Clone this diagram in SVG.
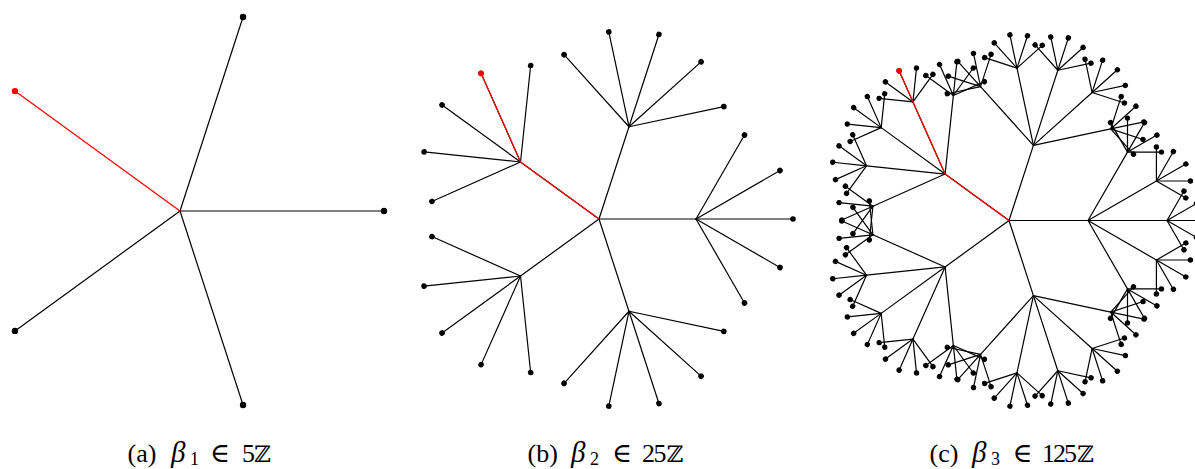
<svg xmlns="http://www.w3.org/2000/svg" width="1195" height="469" viewBox="0 0 1195 469">
<style>
.edges{stroke:#000;stroke-width:1.2;fill:none;stroke-linecap:round}
.dots{fill:#000;stroke:none}
.red{stroke:#f00;stroke-width:1.25;fill:none;stroke-linejoin:round}
.reddot{fill:#f00}
.cap{font-family:"Liberation Serif","DejaVu Serif",serif;font-size:26px;fill:#000}
.it{font-style:italic;font-size:29px}
.sym{font-family:"DejaVu Serif","DejaVu Sans",serif;font-size:23px}
.el{font-family:"DejaVu Serif","DejaVu Sans",serif;font-size:27px}
.sub{font-size:18px}
</style>
<defs>
<g id="c3e"><line x2="34" transform="rotate(-60)"/><line x2="34" transform="rotate(-30)"/><line x2="34"/><line x2="34" transform="rotate(30)"/><line x2="34" transform="rotate(60)"/></g>
<g id="c3n"><circle cx="34" r="2.7" transform="rotate(-60)"/><circle cx="34" r="2.7" transform="rotate(-30)"/><circle cx="34" r="2.7"/><circle cx="34" r="2.7" transform="rotate(30)"/><circle cx="34" r="2.7" transform="rotate(60)"/></g>
<g id="c2e">
<g transform="rotate(-60)"><line x2="79"/><use href="#c3e" x="79"/></g>
<g transform="rotate(-30)"><line x2="79"/><use href="#c3e" x="79"/></g>
<g><line x2="79"/><use href="#c3e" x="79"/></g>
<g transform="rotate(30)"><line x2="79"/><use href="#c3e" x="79"/></g>
<g transform="rotate(60)"><line x2="79"/><use href="#c3e" x="79"/></g>
</g>
<g id="c2n">
<use href="#c3n" transform="rotate(-60) translate(79,0)"/>
<use href="#c3n" transform="rotate(-30) translate(79,0)"/>
<use href="#c3n" transform="translate(79,0)"/>
<use href="#c3n" transform="rotate(30) translate(79,0)"/>
<use href="#c3n" transform="rotate(60) translate(79,0)"/>
</g>
<g id="c1e"><line x2="79"/><use href="#c2e" x="79"/></g>
<g id="c1n"><use href="#c2n" x="79"/></g>
<g id="b2e"><line x2="97" transform="rotate(-60)"/><line x2="97" transform="rotate(-30)"/><line x2="97"/><line x2="97" transform="rotate(30)"/><line x2="97" transform="rotate(60)"/></g>
<g id="b2n"><circle cx="97" r="2.8" transform="rotate(-60)"/><circle cx="97" r="2.8" transform="rotate(-30)"/><circle cx="97" r="2.8"/><circle cx="97" r="2.8" transform="rotate(30)"/><circle cx="97" r="2.8" transform="rotate(60)"/></g>
<g id="b1e"><line x2="97"/><use href="#b2e" x="97"/></g>
<g id="b1n"><use href="#b2n" x="97"/></g>
</defs>

<g id="panel-a">
<g id="a-connectors" class="edges">
<line x1="180" y1="211" x2="384" y2="211"/>
<line x1="180" y1="211" x2="243.04" y2="16.98"/>
<line x1="180" y1="211" x2="14.96" y2="330.91"/>
<line x1="180" y1="211" x2="243.04" y2="405.02"/>
<line class="red" x1="180" y1="211" x2="14.96" y2="91.09"/>
</g>
<g id="a-nodes" class="dots">
<circle id="a-n0" cx="384" cy="211" r="3.2"/>
<circle id="a-n1" cx="243.04" cy="16.98" r="3.2"/>
<circle id="a-n2" class="reddot" cx="14.96" cy="91.09" r="3.2"/>
<circle id="a-n3" cx="14.96" cy="330.91" r="3.2"/>
<circle id="a-n4" cx="243.04" cy="405.02" r="3.2"/>
</g>
</g>

<g id="panel-b">
<g id="b-connectors" class="edges" transform="translate(599,219)">
<use href="#b1e"/><use href="#b1e" transform="rotate(72)"/><use href="#b1e" transform="rotate(144)"/><use href="#b1e" transform="rotate(216)"/><use href="#b1e" transform="rotate(288)"/>
</g>
<g id="b-nodes" class="dots" transform="translate(599,219)">
<use href="#b1n"/><use href="#b1n" transform="rotate(72)"/><use href="#b1n" transform="rotate(144)"/><use href="#b1n" transform="rotate(216)"/><use href="#b1n" transform="rotate(288)"/>
</g>
<g id="b-path">
<polyline class="red" points="599,219 520.53,161.98 481.08,73.37"/>
<circle class="reddot" cx="481.08" cy="73.37" r="2.9"/>
</g>
</g>

<g id="panel-c">
<g id="c-connectors" class="edges" transform="translate(1009,220.5)">
<use href="#c1e"/><use href="#c1e" transform="rotate(72)"/><use href="#c1e" transform="rotate(144)"/><use href="#c1e" transform="rotate(216)"/><use href="#c1e" transform="rotate(288)"/>
</g>
<g id="c-nodes" class="dots" transform="translate(1009,220.5)">
<use href="#c1n"/><use href="#c1n" transform="rotate(72)"/><use href="#c1n" transform="rotate(144)"/><use href="#c1n" transform="rotate(216)"/><use href="#c1n" transform="rotate(288)"/>
</g>
<g id="c-path">
<polyline class="red" points="1009,220.5 945.09,174.06 912.96,101.89 899.13,70.83"/>
<circle class="reddot" cx="899.13" cy="70.83" r="2.8"/>
</g>
</g>

<g id="captions">
<text class="cap" y="462"><tspan x="127.5">(a)</tspan><tspan class="it" x="171">β</tspan><tspan class="sub" x="190" y="464.5">1</tspan><tspan class="el" x="210" y="462">∈</tspan><tspan x="242" y="462">5</tspan><tspan class="sym" x="254" y="462">ℤ</tspan></text>
<text class="cap" y="462"><tspan x="527.5">(b)</tspan><tspan class="it" x="571">β</tspan><tspan class="sub" x="590" y="464.5">2</tspan><tspan class="el" x="612" y="462">∈</tspan><tspan x="642 653.5" y="462">25</tspan><tspan class="sym" x="666.5" y="462">ℤ</tspan></text>
<text class="cap" y="462"><tspan x="929.5">(c)</tspan><tspan class="it" x="972">β</tspan><tspan class="sub" x="991" y="464.5">3</tspan><tspan class="el" x="1012.5" y="462">∈</tspan><tspan x="1042 1053 1064" y="462">125</tspan><tspan class="sym" x="1077" y="462">ℤ</tspan></text>
</g>
</svg>
